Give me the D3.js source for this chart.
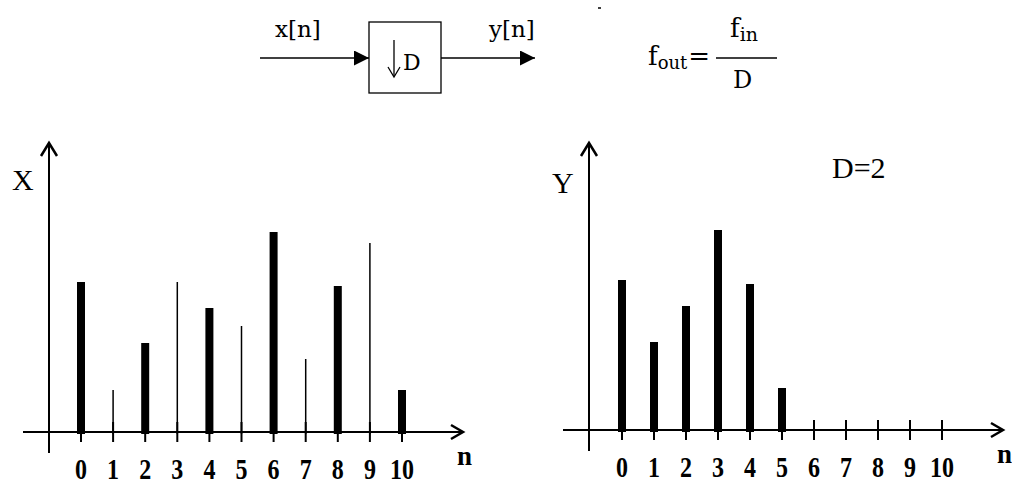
<!DOCTYPE html>
<html>
<head>
<meta charset="utf-8">
<script src="https://cdn.jsdelivr.net/npm/d3@7"></script>
<style>
  body { margin: 0; background: #fff; }
  text { font-family: "Liberation Serif", "Times New Roman", serif; fill: #000; }
  .dg text { font-family: "DejaVu Serif", serif; }
</style>
</head>
<body>
<div id="chart"></div>
<script>
// sample index and the two sequences (heights, arbitrary units)
const nIndex = [0, 1, 2, 3, 4, 5, 6, 7, 8, 9, 10];
const xValues = [7.5, 2.1, 4.45, 7.5, 6.2, 5.3, 10, 3.65, 7.3, 9.45, 2.1];
const yValues = [7.5, 4.4, 6.2, 10, 7.3, 2.1];   // y[n] = x[2n]
const tickLabels = ["0", "1", "2", "3", "4", "5", "6", "7", "8", "9", "10"];
const factorD = 2;

const width = 1012, height = 485;

const svg = d3.select("#chart").append("svg")
    .attr("width", width)
    .attr("height", height);

const defs = svg.append("defs");
defs.append("marker")
    .attr("id", "tri")
    .attr("viewBox", "0 0 10 10")
    .attr("refX", 10).attr("refY", 5)
    .attr("markerWidth", 20).attr("markerHeight", 15)
    .attr("markerUnits", "userSpaceOnUse")
    .attr("orient", "auto")
  .append("path")
    .attr("d", "M0,0 L10,5 L0,10 Z")
    .attr("fill", "#000");

// ---- block diagram on top ----
const diag = svg.append("g").attr("class", "dg");
diag.append("line").attr("x1", 260).attr("y1", 58).attr("x2", 369).attr("y2", 58)
    .attr("stroke", "#000").attr("stroke-width", 1.5).attr("marker-end", "url(#tri)");
diag.append("rect").attr("x", 369).attr("y", 22).attr("width", 72).attr("height", 71)
    .attr("fill", "none").attr("stroke", "#000").attr("stroke-width", 1.3);
diag.append("line").attr("x1", 441).attr("y1", 58).attr("x2", 535).attr("y2", 58)
    .attr("stroke", "#000").attr("stroke-width", 1.5).attr("marker-end", "url(#tri)");
diag.append("text").attr("x", 275).attr("y", 37).attr("font-size", 23).text("x[n]");
diag.append("text").attr("x", 489).attr("y", 37).attr("font-size", 23).text("y[n]");
// down arrow + D inside the box
diag.append("line").attr("x1", 394).attr("y1", 40).attr("x2", 394).attr("y2", 76)
    .attr("stroke", "#000").attr("stroke-width", 1.3);
diag.append("path").attr("d", "M388,67 L394,77 L400,67")
    .attr("fill", "none").attr("stroke", "#000").attr("stroke-width", 1.3);
diag.append("text").attr("x", 403).attr("y", 70).attr("font-size", 22).text("D");
diag.append("line").attr("x1", 598).attr("y1", 8).attr("x2", 601).attr("y2", 8)
    .attr("stroke", "#000").attr("stroke-width", 1.5);

// f_out = f_in / D
const eq = diag.append("text").attr("x", 648).attr("y", 65).attr("font-size", 26);
eq.append("tspan").text("f");
eq.append("tspan").attr("font-size", 18).attr("dy", 4).text("out");
eq.append("tspan").attr("dy", -4).attr("dx", 1).text("=");
diag.append("line").attr("x1", 716).attr("y1", 58).attr("x2", 777).attr("y2", 58)
    .attr("stroke", "#000").attr("stroke-width", 1.3);
const num = diag.append("text").attr("x", 730).attr("y", 37).attr("font-size", 26);
num.append("tspan").text("f");
num.append("tspan").attr("font-size", 19).attr("dy", 4).text("in");
diag.append("text").attr("x", 733).attr("y", 88).attr("font-size", 24).text("D");

// ---- stem plot helper ----
function stemPlot(opt) {
  const g = svg.append("g");
  const x = d3.scaleLinear().domain([0, 10]).range(opt.xRange);
  const y = d3.scaleLinear().domain([0, 10]).range(opt.yRange);
  const y0 = y(0);
  const ax = opt.yAxisX;

  // horizontal axis with open arrow
  g.append("line").attr("x1", opt.xStart).attr("y1", y0).attr("x2", opt.xEnd).attr("y2", y0)
      .attr("stroke", "#000").attr("stroke-width", 2);
  g.append("path")
      .attr("d", `M${opt.xEnd - 12},${y0 - 7} L${opt.xEnd},${y0} L${opt.xEnd - 12},${y0 + 7}`)
      .attr("fill", "none").attr("stroke", "#000").attr("stroke-width", 2.5);
  // vertical axis with open arrow
  g.append("line").attr("x1", ax).attr("y1", y0 + 21).attr("x2", ax).attr("y2", opt.yTop)
      .attr("stroke", "#000").attr("stroke-width", 2);
  g.append("path")
      .attr("d", `M${ax - 8},${opt.yTop + 13} L${ax},${opt.yTop} L${ax + 8},${opt.yTop + 13}`)
      .attr("fill", "none").attr("stroke", "#000").attr("stroke-width", 2.5);

  // tick marks
  g.selectAll(".tk").data(nIndex).enter().append("line")
      .attr("x1", d => x(d)).attr("x2", d => x(d))
      .attr("y1", y0 - 10).attr("y2", y0 + 10)
      .attr("stroke", "#000").attr("stroke-width", 2);

  // stems
  g.selectAll(".stem").data(opt.values).enter().append("line")
      .attr("x1", (d, i) => x(i)).attr("x2", (d, i) => x(i))
      .attr("y1", y0 + 2).attr("y2", d => y(d))
      .attr("stroke", "#000")
      .attr("stroke-width", (d, i) => opt.thin(i) ? 1.5 : 8);

  // tick labels
  g.selectAll(".lbl").data(tickLabels).enter().append("text")
      .attr("transform", (d, i) => `translate(${x(i)},${y0 + 47}) scale(1,1.2)`)
      .attr("text-anchor", "middle")
      .attr("font-size", 24)
      .attr("font-weight", "bold")
      .text(d => d);

  g.append("text").attr("x", opt.nX).attr("y", y0 + 33)
      .attr("font-size", 27).attr("font-weight", "bold").text("n");
  g.append("text").attr("x", opt.labelX).attr("y", opt.labelY)
      .attr("font-size", 30).text(opt.label);
  return g;
}

stemPlot({
  values: xValues, xRange: [81, 402], yRange: [432, 232],
  yAxisX: 49, yTop: 143, xStart: 23, xEnd: 463,
  label: "X", labelX: 12, labelY: 190, nX: 457,
  thin: i => i % factorD !== 0
});

const right = stemPlot({
  values: yValues, xRange: [622, 942], yRange: [430, 230],
  yAxisX: 589, yTop: 143, xStart: 563, xEnd: 1003,
  label: "Y", labelX: 552, labelY: 193, nX: 997,
  thin: () => false
});
right.append("text").attr("x", 832).attr("y", 178).attr("font-size", 30).text("D=" + factorD);
</script>
</body>
</html>
